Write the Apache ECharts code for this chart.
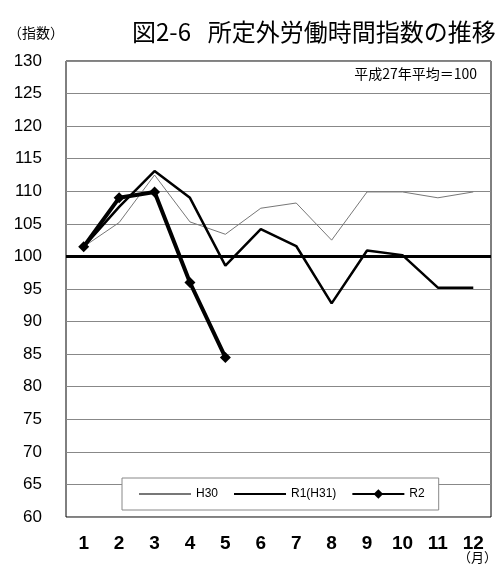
<!DOCTYPE html>
<html>
<head>
<meta charset="utf-8">
<script src="https://cdn.jsdelivr.net/npm/echarts@6/dist/echarts.min.js"></script>
<style>
  html, body { margin: 0; padding: 0; background: #fff; }
  #chart { width: 497px; height: 568px; }
</style>
</head>
<body>
<div id="chart"></div>
<script>
// Months on the category axis
const months = ['1', '2', '3', '4', '5', '6', '7', '8', '9', '10', '11', '12'];

// Overtime hours index (2015 average = 100)
const h30 = [101.5, 105.2, 112.5, 105.3, 103.4, 107.4, 108.2, 102.5, 109.9, 109.9, 109.0, 109.9];
const r1 = [101.5, 107.6, 113.1, 109.0, 98.6, 104.2, 101.6, 92.8, 100.9, 100.2, 95.2, 95.2];
const r2 = [101.5, 109.0, 109.9, 96.0, 84.5];

const seriesNames = ['H30', 'R1(H31)', 'R2'];
const baseLevel = 100;

const latin = '"Liberation Sans", Arial, sans-serif';
const jp = '"Noto Sans CJK JP", "Noto Sans", sans-serif';

const chart = echarts.init(document.getElementById('chart'), null, { renderer: 'canvas' });

chart.setOption({
  animation: false,
  backgroundColor: '#fff',
  title: {
    text: '図2-6\u2002\u2009所定外労働時間指数の推移',
    left: 132,
    top: 20,
    padding: 0,
    textStyle: { fontFamily: jp, fontSize: 24, fontWeight: 'normal', color: '#000' }
  },
  graphic: [
    {
      type: 'text', left: 8, top: 26,
      style: { text: '（指数）', font: '14px ' + jp, fill: '#000' }
    },
    {
      type: 'text', right: 20, top: 67,
      style: { text: '平成27年平均＝100', font: '14px ' + jp, fill: '#000' }
    },
    {
      type: 'text', left: 458, top: 551,
      style: { text: '（月）', font: '13px ' + jp, fill: '#000' }
    }
  ],
  grid: {
    left: 66, right: 6, top: 61, bottom: 51,
    show: true, borderColor: '#000', borderWidth: 1, backgroundColor: 'transparent'
  },
  legend: {
    data: [
      { name: seriesNames[0], itemStyle: { opacity: 0 } },
      { name: seriesNames[1], itemStyle: { opacity: 0 } },
      { name: seriesNames[2] }
    ],
    left: 122, top: 478,
    padding: [10, 14, 10, 16],
    itemGap: 15,
    itemWidth: 52,
    itemHeight: 12,
    backgroundColor: '#fff',
    borderColor: '#888',
    borderWidth: 1,
    textStyle: { fontFamily: latin, fontSize: 12, color: '#000' }
  },
  xAxis: {
    type: 'category',
    data: months,
    boundaryGap: true,
    axisLine: { show: false },
    axisTick: { show: false },
    axisLabel: { margin: 17, fontFamily: latin, fontSize: 19, fontWeight: 'bold', color: '#000' }
  },
  yAxis: {
    type: 'value',
    min: 60, max: 130, interval: 5,
    axisLine: { show: false },
    axisTick: { show: false },
    axisLabel: { margin: 24, fontFamily: latin, fontSize: 17, color: '#000' },
    splitLine: { lineStyle: { color: '#888', width: 1 } }
  },
  series: [
    {
      name: seriesNames[0], type: 'line', data: h30,
      symbol: 'none',
      lineStyle: { color: '#777', width: 1 },
      itemStyle: { color: '#777' }
    },
    {
      name: seriesNames[1], type: 'line', data: r1,
      symbol: 'none',
      lineStyle: { color: '#000', width: 2.5 },
      itemStyle: { color: '#000' },
      markLine: {
        silent: true, symbol: 'none', label: { show: false },
        lineStyle: { color: '#000', width: 3, type: 'solid' },
        data: [{ yAxis: baseLevel }]
      }
    },
    {
      name: seriesNames[2], type: 'line', data: r2,
      symbol: 'diamond', symbolSize: 11, showSymbol: true,
      lineStyle: { color: '#000', width: 4 },
      itemStyle: { color: '#000' },
      z: 5
    }
  ]
});
</script>
</body>
</html>
